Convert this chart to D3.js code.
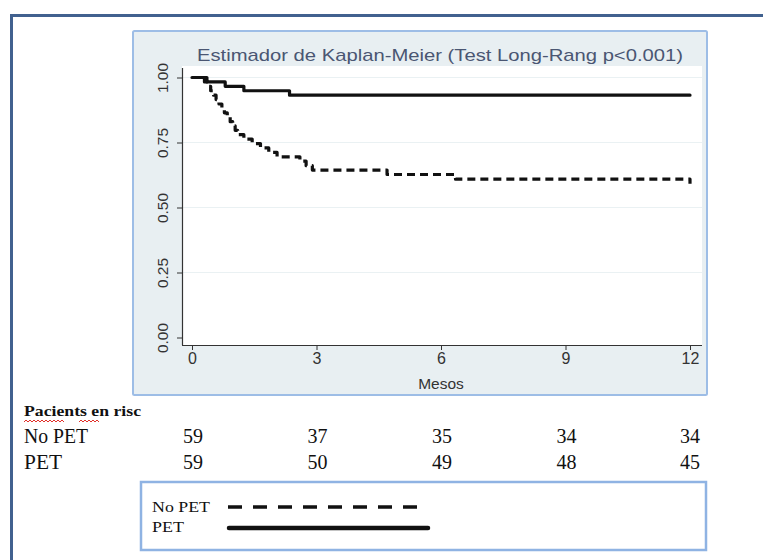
<!DOCTYPE html>
<html>
<head>
<meta charset="utf-8">
<script src="https://cdn.jsdelivr.net/npm/d3@7/dist/d3.min.js"></script>
<style>
  html, body { margin: 0; padding: 0; background: #ffffff; }
  svg { display: block; }
</style>
</head>
<body>
<script>
// ---------------- DATA ----------------
const title = "Estimador de Kaplan-Meier (Test Long-Rang p<0.001)";
const xTicks = [0, 3, 6, 9, 12];
const yTicks = [0, 0.25, 0.5, 0.75, 1.0];
const xLabel = "Mesos";

// Step points (time in months, survival)
const noPetTimes = [0, 0.30, 0.38, 0.45, 0.52, 0.58, 0.65, 0.72, 0.78, 0.85, 0.92, 0.98, 1.04, 1.10, 1.25, 1.45, 1.65, 1.85, 2.05, 2.60, 2.75, 2.90, 4.70, 6.35, 11.97, 12.0];
const noPetSurv  = [1.0, 0.983, 0.966, 0.949, 0.932, 0.915, 0.898, 0.881, 0.864, 0.847, 0.830, 0.814, 0.797, 0.780, 0.763, 0.746, 0.729, 0.712, 0.695, 0.678, 0.661, 0.644, 0.627, 0.609, 0.609, 0.591];
const petTimes = [0, 0.36, 0.80, 1.25, 2.35, 12.0];
const petSurv  = [1.0, 0.983, 0.966, 0.949, 0.932, 0.932];

const riskHeader = "Pacients en risc";
const riskGroups = ["No PET", "PET"];
const riskNoPet = [59, 37, 35, 34, 34];
const riskPet = [59, 50, 49, 48, 45];

const legendLabels = ["No PET", "PET"];

// ---------------- DRAW ----------------
const W = 763, H = 560;
const svg = d3.select("body").append("svg").attr("width", W).attr("height", H);
const sans = "Liberation Sans, Arial, sans-serif";
const serif = "Liberation Serif, Times New Roman, serif";

// outer document frame
svg.append("path")
  .attr("d", "M11.5,570 L11.5,15.5 L780,15.5")
  .attr("fill", "none").attr("stroke", "#41618f").attr("stroke-width", 3);

// graph panel
svg.append("rect").attr("x", 133).attr("y", 31).attr("width", 574).attr("height", 364)
  .attr("fill", "#e8eff2").attr("stroke", "#9dbde6").attr("stroke-width", 2).attr("rx", 1.5);

// plot region
const px0 = 182, px1 = 702, py0 = 66, py1 = 345;
svg.append("rect").attr("x", px0).attr("y", py0).attr("width", px1 - px0).attr("height", py1 - py0)
  .attr("fill", "#ffffff");

const x = d3.scaleLinear().domain([0, 12]).range([192, 690]);
const y = d3.scaleLinear().domain([0, 1]).range([337.5, 77.5]);

// gridlines
svg.append("g").selectAll("line").data(yTicks.filter(d => d > 0)).join("line")
  .attr("x1", px0).attr("x2", px1)
  .attr("y1", d => y(d)).attr("y2", d => y(d))
  .attr("stroke", "#eaf1f3").attr("stroke-width", 1.2);

// title
svg.append("text").attr("x", 440).attr("y", 61).attr("text-anchor", "middle")
  .attr("font-family", sans).attr("font-size", 17)
  .attr("textLength", 486).attr("lengthAdjust", "spacingAndGlyphs")
  .attr("fill", "#4a5672").text(title);

// axes
const yAxis = d3.axisLeft(y).tickValues(yTicks).tickFormat(d3.format(".2f")).tickSize(5).tickPadding(4);
const gy = svg.append("g").attr("transform", `translate(${px0},0)`).call(yAxis);
gy.select(".domain").attr("d", `M0.5,${py0 + 2}V${py1}`).attr("stroke", "#333").attr("stroke-width", 1.2);
gy.selectAll(".tick line").attr("stroke", "#333");
gy.selectAll(".tick text")
  .attr("font-family", sans).attr("font-size", 15.5).attr("fill", "#333")
  .attr("transform", "rotate(-90)")
  .attr("x", 0).attr("y", -14).attr("dy", 0)
  .attr("text-anchor", "middle");

const xAxis = d3.axisBottom(x).tickValues(xTicks).tickSize(5).tickPadding(3);
const gx = svg.append("g").attr("transform", `translate(0,${py1})`).call(xAxis);
gx.select(".domain").attr("d", `M${px0},0.5H${px1}`).attr("stroke", "#333").attr("stroke-width", 1.2);
gx.selectAll(".tick line").attr("stroke", "#333");
gx.selectAll(".tick text")
  .attr("font-family", sans).attr("font-size", 16).attr("fill", "#333");

svg.append("text").attr("x", 441).attr("y", 389).attr("text-anchor", "middle")
  .attr("font-family", sans).attr("font-size", 15.5)
  .attr("fill", "#333").text(xLabel);

// curves
const line = d3.line().x(d => x(d[0])).y(d => y(d[1])).curve(d3.curveStepAfter);
const petData = petTimes.map((t, i) => [t, petSurv[i]]);
const noPetData = noPetTimes.map((t, i) => [t, noPetSurv[i]]);

svg.append("path").datum(petData).attr("d", line)
  .attr("fill", "none").attr("stroke", "#111").attr("stroke-width", 3.2)
  .attr("stroke-linecap", "round").attr("stroke-linejoin", "round");
svg.append("path").datum(noPetData).attr("d", line)
  .attr("fill", "none").attr("stroke", "#111").attr("stroke-width", 3.2)
  .attr("stroke-dasharray", "8,5").attr("stroke-linejoin", "round");

// risk table
svg.append("text").attr("x", 24).attr("y", 416)
  .attr("font-family", serif).attr("font-size", 15).attr("font-weight", "bold")
  .attr("textLength", 117).attr("lengthAdjust", "spacingAndGlyphs")
  .attr("fill", "#111").text(riskHeader);
// spell-check squiggles
function squiggle(x0, x1, yy) {
  let d = `M${x0},${yy}`;
  for (let xx = x0; xx < x1; xx += 4) d += ` l2,-2 l2,2`;
  return d;
}
svg.append("path").attr("d", squiggle(24, 64, 422)).attr("fill", "none").attr("stroke", "#e0302a").attr("stroke-width", 1);
svg.append("path").attr("d", squiggle(79, 99, 422)).attr("fill", "none").attr("stroke", "#e0302a").attr("stroke-width", 1);

const rows = [riskNoPet, riskPet];
rows.forEach((vals, r) => {
  const yy = 443 + r * 26;
  svg.append("text").attr("x", 24).attr("y", yy)
    .attr("font-family", serif).attr("font-size", 20).attr("fill", "#111")
    .attr("textLength", r === 0 ? 64 : 38).attr("lengthAdjust", "spacingAndGlyphs")
    .text(riskGroups[r]);
  svg.append("g").selectAll("text").data(vals).join("text")
    .attr("x", (d, i) => x(xTicks[i]) + (i === 4 ? 0 : 1))
    .attr("y", yy).attr("text-anchor", "middle")
    .attr("font-family", serif).attr("font-size", 20).attr("fill", "#111")
    .text(d => d);
});

// legend box
svg.append("rect").attr("x", 141).attr("y", 482).attr("width", 565).attr("height", 68)
  .attr("fill", "#ffffff").attr("stroke", "#8fb3e3").attr("stroke-width", 2.5);
legendLabels.forEach((lab, i) => {
  const yy = 512 + i * 20;
  svg.append("text").attr("x", 152).attr("y", yy)
    .attr("font-family", serif).attr("font-size", 15).attr("fill", "#111")
    .attr("textLength", i === 0 ? 58 : 32).attr("lengthAdjust", "spacingAndGlyphs")
    .text(lab);
});
svg.append("line").attr("x1", 228).attr("x2", 418).attr("y1", 507).attr("y2", 507)
  .attr("stroke", "#111").attr("stroke-width", 3.5).attr("stroke-dasharray", "14,11");
svg.append("line").attr("x1", 229).attr("x2", 428).attr("y1", 528).attr("y2", 528)
  .attr("stroke", "#111").attr("stroke-width", 4.5).attr("stroke-linecap", "round");
</script>
</body>
</html>
